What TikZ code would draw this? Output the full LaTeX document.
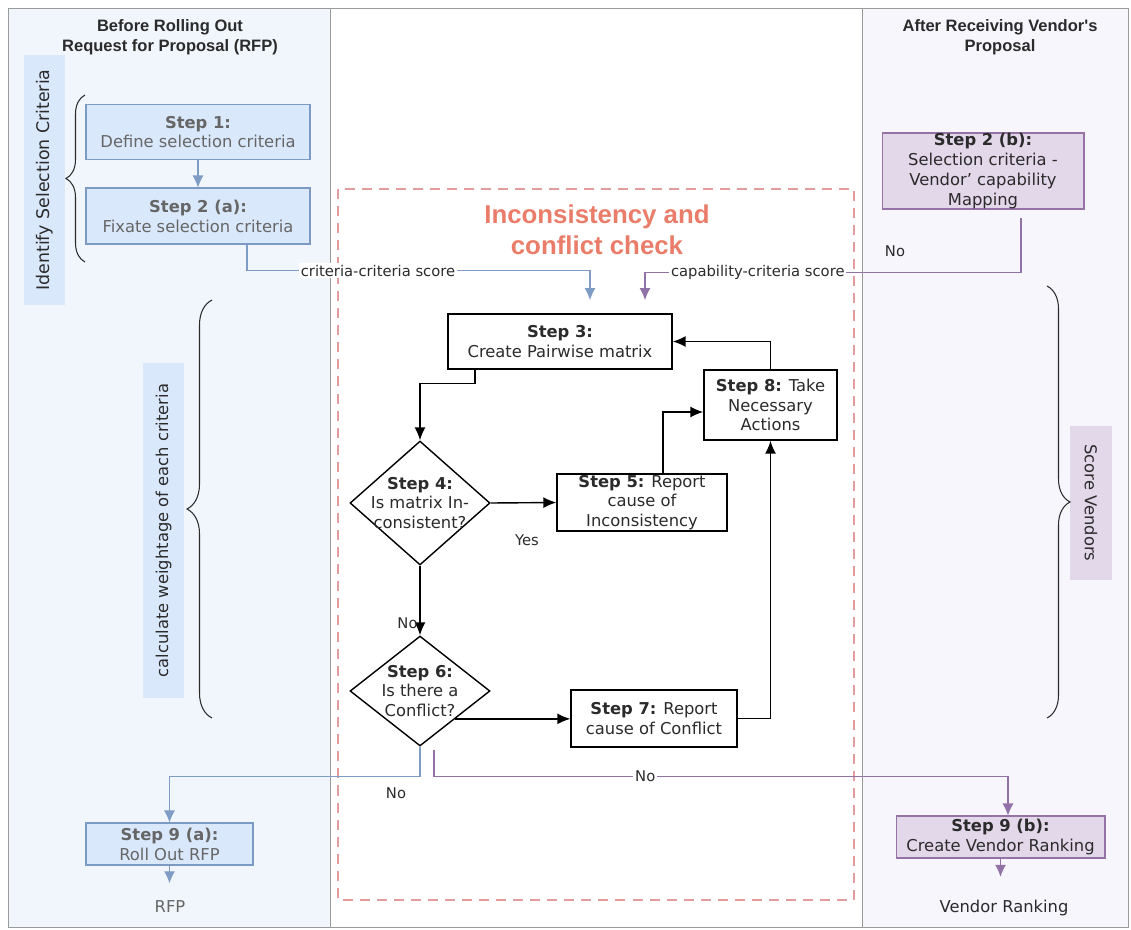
\documentclass[tikz,border=0pt]{standalone}
\usepackage{fontspec}
\setmainfont{DejaVu Sans}
\newfontfamily\headfont{Liberation Sans}
\usetikzlibrary{arrows.meta}
\usetikzlibrary{shapes.geometric}
\usetikzlibrary{decorations.pathreplacing}

\definecolor{bluefill}{HTML}{DAE8FC}
\definecolor{blueline}{HTML}{7D9AC4}
\definecolor{bluearrow}{HTML}{7F9CC4}
\definecolor{purplefill}{HTML}{E3D7EA}
\definecolor{purpleline}{HTML}{9673A6}
\definecolor{purplearrow}{HTML}{9072A6}
\definecolor{leftbg}{HTML}{F1F6FC}
\definecolor{rightbg}{HTML}{F8F6FD}
\definecolor{framegray}{HTML}{9A9A9A}
\definecolor{checkred}{HTML}{E39C9C}
\definecolor{titlered}{HTML}{EA7D69}
\definecolor{bluetext}{HTML}{666666}
\definecolor{darktext}{HTML}{2B2B2B}

\newcommand{\stepfont}{\fontsize{9.3}{11.3}\selectfont}
\newcommand{\lblfont}{\fontsize{8.4}{10}\selectfont}

\begin{document}
\begin{tikzpicture}[x=0.02cm, y=-0.02cm]

		\tikzstyle{edge} = [thick, -{Latex[length=2.6mm, width=2.2mm]}]
		\tikzstyle{edge_blue} = [semithick, draw=bluearrow, -{Latex[length=2.4mm, width=2.2mm]}]
		\tikzstyle{edge_purple} = [semithick, draw=purplearrow, -{Latex[length=2.4mm, width=2.2mm]}]
		\tikzstyle{box_plain} = [rectangle, draw=black, thick, fill=white, text=darktext, align=center, font=\stepfont, inner sep=1pt]
		\tikzstyle{box_blue} = [rectangle, draw=blueline, semithick, fill=bluefill, text=bluetext, align=center, font=\stepfont, inner sep=1pt]
		\tikzstyle{box_purple} = [rectangle, draw=purpleline, semithick, fill=purplefill, text=darktext, align=center, font=\stepfont, inner sep=1pt]
		\tikzstyle{decision} = [diamond, draw=black, thick, fill=white, inner sep=0pt, minimum width=2.8cm]
		\tikzstyle{decision_text} = [align=center, font=\stepfont, text=darktext]
		\tikzstyle{side_blue} = [rectangle, fill=bluefill, text=darktext, font=\stepfont, minimum height=0.82cm]
		\tikzstyle{side_purple} = [rectangle, fill=purplefill, text=darktext, font=\stepfont, minimum height=0.84cm]
		\tikzstyle{lbl} = [font=\lblfont, text=darktext, inner sep=1pt]
		\tikzstyle{end_text} = [font=\stepfont, text=bluetext, inner sep=0pt, anchor=base]
		\tikzstyle{head} = [align=center, text=darktext, font=\headfont\bfseries\fontsize{9.4}{11.3}\selectfont]
		\tikzstyle{brace_line} = [decorate, draw=darktext, semithick]

		\useasboundingbox (0,0) rectangle (1131,929);

		\fill[leftbg] (8,8) rectangle (330,927);
		\fill[rightbg] (862,8) rectangle (1128,927);
		\draw[framegray] (8,8) rectangle (1128,927);
		\draw[framegray] (330,8) -- (330,927);
		\draw[framegray] (862,8) -- (862,927);
		\draw[checkred, semithick, dash pattern=on 5.7pt off 4pt] (338,189) rectangle (854,900);

		\node[head] (left_title) at (170,37) {Before Rolling Out\\Request for Proposal (RFP)};
		\node[head] (right_title) at (1000,37) {After Receiving Vendor's\\Proposal};
		\node[align=center, text=titlered, font=\headfont\bfseries\fontsize{14.7}{17.6}\selectfont] (check_title) at (597,230) {Inconsistency and\\conflict check};

		\node[side_blue, rotate=90, minimum width=5cm, font=\fontsize{9.9}{11.3}\selectfont] (identify) at (44.5,180) {Identify Selection Criteria};
		\node[side_blue, rotate=90, minimum width=6.7cm] (weightage) at (163.5,530.5) {calculate weightage of each criteria};
		\node[side_purple, rotate=-90, minimum width=3.08cm] (score_vendors) at (1091,503) {Score Vendors};

		\draw[brace_line, decoration={brace, amplitude=0.38cm}] (85,262) -- (85,95);
		\draw[brace_line, decoration={brace, amplitude=0.5cm}] (212,718) -- (212,300);
		\draw[brace_line, decoration={brace, amplitude=0.46cm}] (1047,286) -- (1047,718);

		\node[box_blue, minimum width=4.48cm, minimum height=1.1cm] (s1) at (198,132) {\textbf{Step 1:}\\Define selection criteria};
		\node[box_blue, minimum width=4.48cm, minimum height=1.12cm] (s2a) at (198,216) {\textbf{Step 2 (a):}\\Fixate selection criteria};
		\node[box_purple, minimum width=4.04cm, minimum height=1.52cm, inner sep=0pt] (s2b) at (983,171) {\textbf{Step 2 (b):}\\Selection criteria -\\Vendor' capability\\Mapping};
		\node[box_plain, minimum width=4.48cm, minimum height=1.1cm] (s3) at (560,341.5) {\textbf{Step 3:}\\Create Pairwise matrix};
		\node[box_plain, minimum width=2.66cm, minimum height=1.4cm] (s8) at (770.5,405) {\textbf{Step 8:} Take\\Necessary\\Actions};
		\node[decision, minimum height=2.48cm, label={[decision_text]center:{\textbf{Step 4:}\\Is matrix In-\\consistent?}}] (d4) at (420,503) {};
		\node[box_plain, minimum width=3.4cm, minimum height=1.14cm, inner sep=0pt] (s5) at (642,502.5) {\textbf{Step 5:} Report\\cause of\\Inconsistency};
		\node[decision, minimum height=2.2cm, label={[decision_text]center:{\textbf{Step 6:}\\Is there a\\Conflict?}}] (d6) at (420,691) {};
		\node[box_plain, minimum width=3.32cm, minimum height=1.14cm] (s7) at (654,718.5) {\textbf{Step 7:} Report\\cause of Conflict};
		\node[box_blue, minimum width=3.34cm, minimum height=0.84cm] (s9a) at (169.5,844) {\textbf{Step 9 (a):}\\Roll Out RFP};
		\node[box_purple, minimum width=4.18cm, minimum height=0.84cm] (s9b) at (1000.5,837) {\textbf{Step 9 (b):}\\Create Vendor Ranking};

		\node[end_text] (rfp) at (170,912) {RFP};
		\node[end_text, text=darktext] (ranking) at (1004,912) {Vendor Ranking};

		\coordinate (score_a) at (590,300);
		\coordinate (score_b) at (645,300);

		\node[lbl] (no_vendor) at (895,251) {No};
		\node[lbl] (yes_incons) at (527,540) {Yes};
		\node[lbl] (no_rfp) at (396,793) {No};

		\draw[edge_blue] (s1) -- (s2a);
		\draw[edge_blue] ([xshift=0.98cm]s2a.south) -- ++(0,26) -| node[lbl, pos=0.191, fill=white] {criteria-criteria score} (score_a);
		\draw[edge_purple] ([xshift=0.76cm, yshift=-0.16cm]s2b.south) -- ++(0,55) -| node[lbl, pos=0.35, fill=white] {capability-criteria score} (score_b);

		\draw[edge] ([xshift=-1.7cm]s3.south) -- ++(0,14) -| (d4.north);
		\draw[edge] (d4.east) -- (s5.west);
		\draw[edge] ([xshift=0.42cm]s5.north) |- ([yshift=-0.14cm]s8.west);
		\draw[edge] (s8.north) |- (s3.east);
		\draw[edge] (d4.south) -- node[lbl, left, pos=0.83] {No} (d6.north);
		\draw[edge] (d6.south east) -- (d6.south east -| s7.west);
		\draw[edge] (s7.east) -| (s8.south);

		\draw[edge_blue] (d6.south) -- ++(0,30) -| (s9a.north);
		\draw[edge_purple] ([xshift=0.28cm, yshift=-0.06cm]d6.south) -- ++(0,27) -| node[lbl, pos=0.184, fill=white] {No} ([xshift=0.15cm]s9b.north);

		\draw[edge_blue, shorten >=0.33cm] (s9a.south) -- (s9a.south |- rfp.north);
		\draw[edge_purple, shorten >=0.45cm] (s9b.south) -- (s9b.south |- ranking.north);

  \end{tikzpicture}
\end{document}
